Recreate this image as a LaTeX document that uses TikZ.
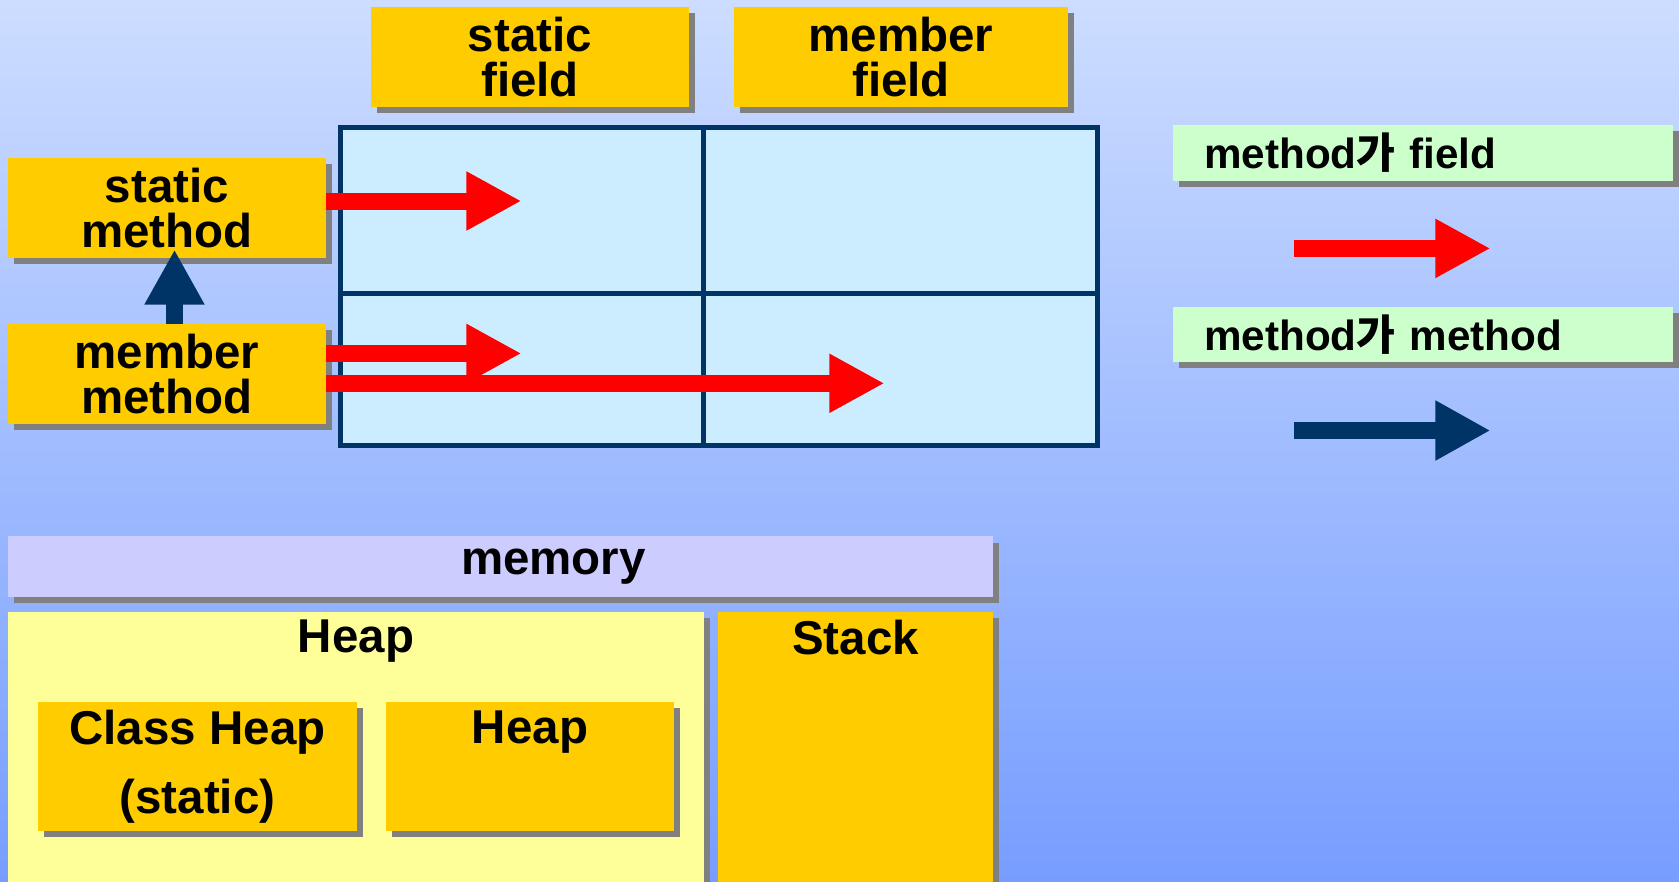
\documentclass[tikz,border=0pt]{standalone}
\usepackage{fontspec}
\setmainfont{Liberation Sans}
\newfontfamily\krfont{Noto Sans CJK KR}
\usetikzlibrary{arrows.meta,shadows}
\definecolor{gold}{HTML}{FFCC00}
\definecolor{shadowgray}{HTML}{808080}
\definecolor{navy}{HTML}{003366}
\definecolor{cellblue}{HTML}{CCECFF}
\definecolor{legendgreen}{HTML}{CCFFCC}
\definecolor{memblue}{HTML}{CCCCFF}
\definecolor{heapyellow}{HTML}{FFFF99}
\definecolor{bgtop}{HTML}{CCDDFF}
\definecolor{bgbottom}{HTML}{779DFF}
\begin{document}
\begin{tikzpicture}[x=0.01cm, y=-0.01cm,
  box/.style={shape=rectangle, fill=gold, inner sep=0pt, align=center,
    font=\fontsize{13.5}{12.6}\selectfont\bfseries,
    drop shadow={shadow xshift=0.06cm, shadow yshift=-0.06cm, fill=shadowgray, opacity=1}},
  cell/.style={shape=rectangle, draw=navy, line width=0.045cm, fill=cellblue, inner sep=0pt},
  legend/.style={box, fill=legendgreen, minimum width=4.99cm, minimum height=0.555cm,
    text width=4.37cm, align=left, font=\fontsize{12}{14}\selectfont\bfseries},
  title/.style={anchor=north, inner sep=0.08cm, font=\fontsize{13.5}{16}\selectfont\bfseries},
  redarrow/.style={-{Triangle[length=0.55cm, width=0.55cm]}, line width=0.17cm, draw=red},
  navyarrow/.style={-{Triangle[length=0.55cm, width=0.56cm]}, line width=0.17cm, draw=navy}]
\useasboundingbox (0,0) rectangle (1679,881);
\clip (0,0) rectangle (1679,881);
\shade[top color=bgtop, bottom color=bgbottom] (0,0) rectangle (1679,881);
% fields
\node[box, minimum width=3.17cm, minimum height=0.995cm] (sf) at (530,57) {static\\field};
\node[box, minimum width=3.33cm, minimum height=0.995cm] (mf) at (901,57) {member\\field};
% table
\node[cell, minimum width=3.63cm, minimum height=1.66cm] (c11) at (522,210.4) {};
\node[cell, minimum width=3.94cm, minimum height=1.66cm] (c12) at (900.5,210.4) {};
\node[cell, minimum width=3.63cm, minimum height=1.52cm] (c21) at (522,369.5) {};
\node[cell, minimum width=3.94cm, minimum height=1.52cm] (c22) at (900.5,369.5) {};
% methods
\node[box, minimum width=3.17cm, minimum height=0.995cm] (sm) at (167,208) {static\\method};
\node[box, minimum width=3.17cm, minimum height=0.995cm] (mm) at (167,374) {member\\method};
\coordinate (t1) at (521.5,201);
\coordinate (t2) at (521.5,353.4);
\coordinate (t3) at (884.5,383.3);
\coordinate (tu) at (174.5,249.5);
\draw [redarrow] (sm.east |- t1) -- (t1);
\draw [redarrow] (mm.east |- t2) -- (t2);
\draw [redarrow] (mm.east |- t3) -- (t3);
\draw [navyarrow] (mm.north -| tu) -- (tu);
% legend
\node[legend] (lf) at (1423,153) {method{\krfont 가} field};
\node[legend] (lm) at (1423,334.5) {method{\krfont 가} method};
\coordinate (r0) at (1293.5,248.4);
\coordinate (r1) at (1490.5,248.4);
\coordinate (n0) at (1293.5,430.5);
\coordinate (n1) at (1490.5,430.5);
\draw [redarrow] (r0) -- (r1);
\draw [navyarrow] (n0) -- (n1);
% memory
\node[box, fill=memblue, minimum width=9.84cm, minimum height=0.6cm,
  font=\fontsize{13.5}{16}\selectfont\bfseries] (mem) at (500.5,566.5) {\hspace*{1.06cm}memory};
\node[box, fill=heapyellow, minimum width=6.95cm, minimum height=2.875cm,
  label={[title]north:Heap}] (heap) at (356,756) {};
\node[box, minimum width=2.74cm, minimum height=2.875cm,
  label={[title]north:Stack}] (stack) at (855.5,756) {};
\node[box, minimum width=3.18cm, minimum height=1.285cm,
  font=\fontsize{13.5}{19.8}\selectfont\bfseries] (cheap) at (197.5,766.75) {Class Heap\\(static)};
\node[box, minimum width=2.87cm, minimum height=1.285cm,
  font=\fontsize{13.5}{19.8}\selectfont\bfseries] (iheap) at (530,766.75) {Heap\\\phantom{(static)}};
\end{tikzpicture}
\end{document}
